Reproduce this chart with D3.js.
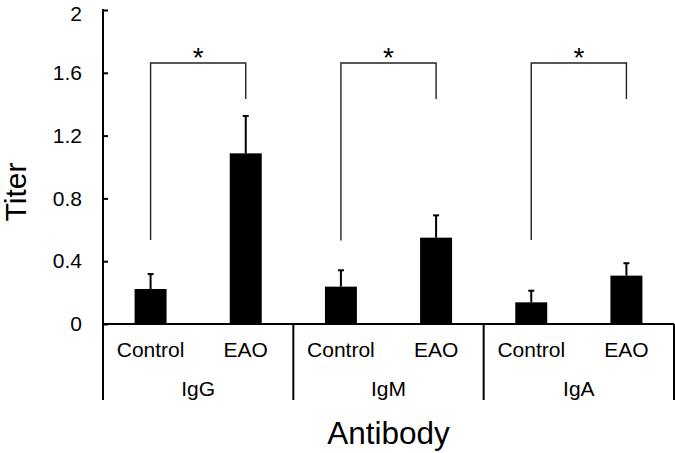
<!DOCTYPE html>
<html>
<head>
<meta charset="utf-8">
<script src="https://cdn.jsdelivr.net/npm/d3@7"></script>
<style>
  body { margin: 0; background: #fff; }
  text { font-family: "Liberation Sans", Arial, sans-serif; fill: #000; }
</style>
</head>
<body>
<div id="chart"></div>
<script>
//--------------------------- Data

var antibodies = ["IgG", "IgM", "IgA"];
var groups = ["Control", "EAO"];
var titerMean = [0.223, 1.087, 0.238, 0.55, 0.138, 0.308];
var titerErr = [0.095, 0.238, 0.104, 0.142, 0.074, 0.079];
var yTicks = [0, 0.4, 0.8, 1.2, 1.6, 2];
// significance brackets: top level, left leg end, right leg end (titer units)
var bracketTop = [1.662, 1.662, 1.662];
var bracketLeft = [0.535, 0.532, 0.535];
var bracketRight = [1.433, 1.433, 1.433];

//--------------------------- SVG definition

var width = 675, height = 453;
var x0 = 103, x1 = 674, yZero = 324, yTop = 10, yBottom = 400;

var svg = d3.select("#chart").append("svg")
    .attr("width", width)
    .attr("height", height);

var keys = [];
antibodies.forEach(function (a) {
    groups.forEach(function (g) { keys.push(a + "-" + g); });
});

var x = d3.scaleBand()
    .domain(keys)
    .range([x0, x1])
    .paddingInner(0.664)
    .paddingOuter(0.332);

var xGroup = d3.scaleBand()
    .domain(antibodies)
    .range([x0, x1]);

var y = d3.scaleLinear()
    .domain([0, 2])
    .range([yZero, yTop]);

//--------------------------- Bars and error bars

var bars = svg.append("g");
keys.forEach(function (k, i) {
    var cx = x(k) + x.bandwidth() / 2;
    bars.append("rect")
        .attr("x", x(k))
        .attr("y", y(titerMean[i]))
        .attr("width", x.bandwidth())
        .attr("height", y(0) - y(titerMean[i]))
        .attr("fill", "#000");
    bars.append("line")
        .attr("x1", cx).attr("x2", cx)
        .attr("y1", y(titerMean[i]))
        .attr("y2", y(titerMean[i] + titerErr[i]))
        .attr("stroke", "#000").attr("stroke-width", 2);
    bars.append("line")
        .attr("x1", cx - 3).attr("x2", cx + 3)
        .attr("y1", y(titerMean[i] + titerErr[i]))
        .attr("y2", y(titerMean[i] + titerErr[i]))
        .attr("stroke", "#000").attr("stroke-width", 2);
});

//--------------------------- Y axis

var yAxis = d3.axisLeft(y)
    .tickValues(yTicks)
    .tickSizeInner(-5)
    .tickSizeOuter(0)
    .tickPadding(21)
    .tickFormat(function (d) { return d3.format("")(d); });

var ya = svg.append("g")
    .attr("transform", "translate(" + x0 + ",0)")
    .call(yAxis);
ya.select(".domain").remove();
ya.selectAll(".tick line").attr("stroke", "#000").attr("stroke-width", 2);
ya.selectAll(".tick text")
    .style("font-size", "21px")
    .style("font-family", "'Liberation Sans', Arial, sans-serif")
    .attr("fill", "#000")
    .attr("dy", function (d) { return d === 2 ? "0.5em" : "0.32em"; });

svg.append("line")
    .attr("x1", x0).attr("x2", x0)
    .attr("y1", yTop - 1).attr("y2", yBottom)
    .attr("stroke", "#000").attr("stroke-width", 2);

//--------------------------- X axis with grouped labels

svg.append("line")
    .attr("x1", x0).attr("x2", x1)
    .attr("y1", yZero).attr("y2", yZero)
    .attr("stroke", "#000").attr("stroke-width", 2);

antibodies.forEach(function (a) {
    svg.append("line")
        .attr("x1", xGroup(a) + xGroup.bandwidth()).attr("x2", xGroup(a) + xGroup.bandwidth())
        .attr("y1", yZero).attr("y2", yBottom)
        .attr("stroke", "#000").attr("stroke-width", 2);
    svg.append("text")
        .attr("x", xGroup(a) + xGroup.bandwidth() / 2)
        .attr("y", 395.5)
        .attr("text-anchor", "middle")
        .style("font-size", "21px")
        .text(a);
});

keys.forEach(function (k, i) {
    svg.append("text")
        .attr("x", x(k) + x.bandwidth() / 2)
        .attr("y", 357)
        .attr("text-anchor", "middle")
        .style("font-size", "21px")
        .text(groups[i % 2]);
});

//--------------------------- Significance brackets

antibodies.forEach(function (a, j) {
    var xl = x(a + "-" + groups[0]) + x.bandwidth() / 2;
    var xr = x(a + "-" + groups[1]) + x.bandwidth() / 2;
    svg.append("path")
        .attr("d", "M" + xl + "," + y(bracketLeft[j]) +
            "V" + y(bracketTop[j]) + "H" + xr + "V" + y(bracketRight[j]))
        .attr("fill", "none")
        .attr("stroke", "#222")
        .attr("stroke-width", 1.4);
    svg.append("text")
        .attr("x", (xl + xr) / 2)
        .attr("y", y(bracketTop[j]) + 4)
        .attr("text-anchor", "middle")
        .style("font-size", "28px")
        .text("*");
});

//--------------------------- Axis titles

svg.append("text")
    .attr("transform", "translate(26,192)rotate(-90)")
    .attr("text-anchor", "middle")
    .style("font-size", "30px")
    .text("Titer");

svg.append("text")
    .attr("x", (x0 + x1) / 2)
    .attr("y", 444)
    .attr("text-anchor", "middle")
    .style("font-size", "31.5px")
    .text("Antibody");
</script>
</body>
</html>
